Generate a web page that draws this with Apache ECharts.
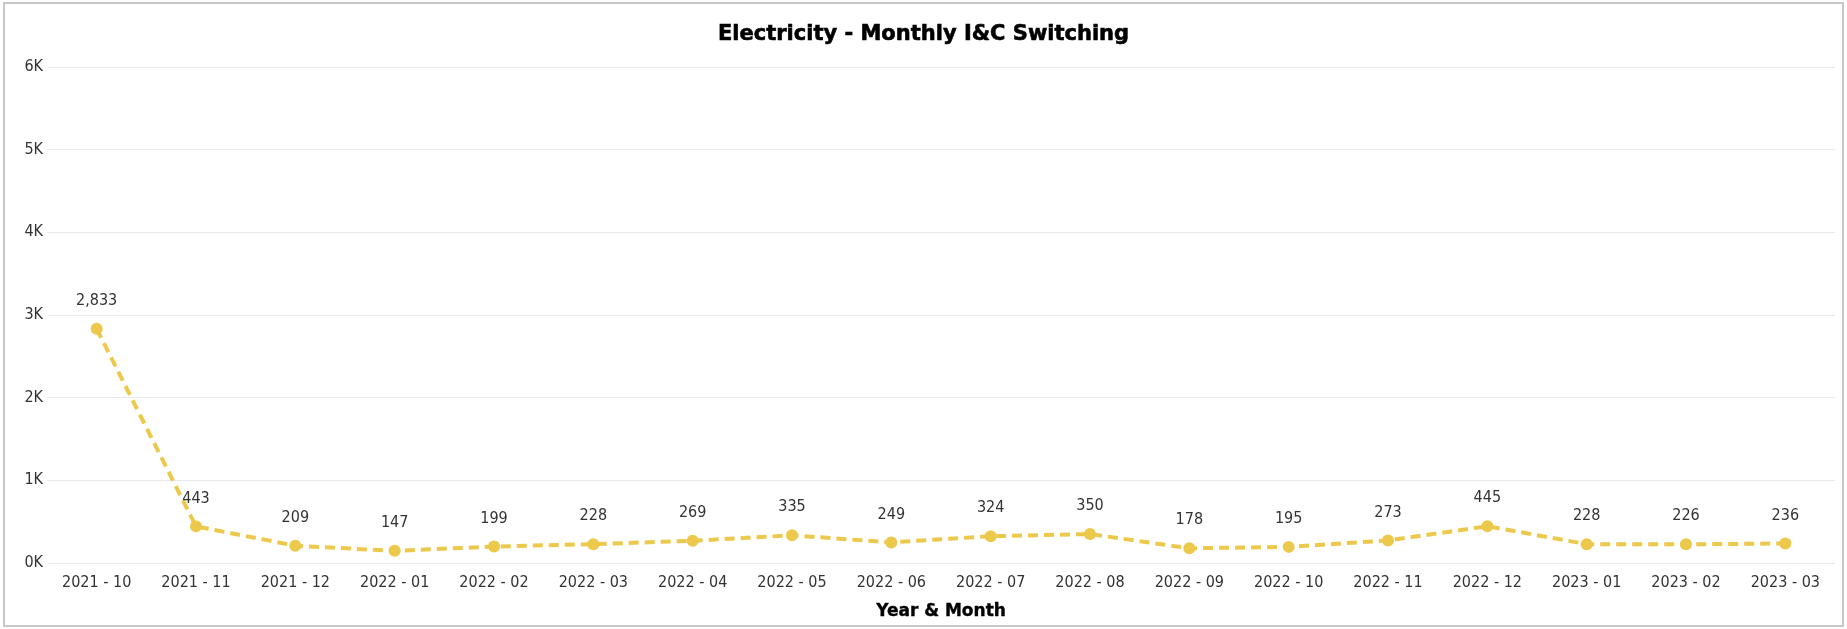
<!DOCTYPE html>
<html>
<head>
<meta charset="utf-8">
<title>Electricity - Monthly I&amp;C Switching</title>
<script src="https://cdn.jsdelivr.net/npm/echarts@6/dist/echarts.min.js"></script>
<style>
  html, body { margin: 0; padding: 0; background: #fff; }
  #chart { width: 1847px; height: 629px; }
</style>
</head>
<body>
<div id="chart"></div>
<script>
// data
var months = ['2021 - 10', '2021 - 11', '2021 - 12', '2022 - 01', '2022 - 02', '2022 - 03',
  '2022 - 04', '2022 - 05', '2022 - 06', '2022 - 07', '2022 - 08', '2022 - 09',
  '2022 - 10', '2022 - 11', '2022 - 12', '2023 - 01', '2023 - 02', '2023 - 03'];
var switching = [2833, 443, 209, 147, 199, 228, 269, 335, 249, 324, 350, 178, 195, 273, 445, 228, 226, 236];
var yTicks = [0, 1000, 2000, 3000, 4000, 5000, 6000];

var labelFont = '"DejaVu Sans Condensed", "DejaVu Sans", sans-serif';
var titleFont = '"DejaVu Sans", sans-serif';
var lineColor = '#ECC84B';

var chart = echarts.init(document.getElementById('chart'));

chart.setOption({
  animation: false,
  title: {
    text: 'Electricity - Monthly I&C Switching',
    left: 'center',
    top: 19,
    textStyle: {
      fontFamily: titleFont,
      fontWeight: 'bold',
      fontSize: 21,
      color: '#000',
      textBorderColor: '#000',
      textBorderWidth: 0.6
    }
  },
  graphic: [{
    type: 'rect',
    silent: true,
    shape: { x: 4, y: 3, width: 1839, height: 623 },
    style: { fill: 'none', stroke: '#c8c8c8', lineWidth: 2 }
  }],
  grid: {
    left: 47,
    right: 12,
    top: 67,
    bottom: 66
  },
  xAxis: {
    type: 'category',
    data: months,
    boundaryGap: true,
    name: 'Year & Month',
    nameLocation: 'middle',
    nameGap: 40,
    nameTextStyle: {
      fontFamily: titleFont,
      fontWeight: 'bold',
      fontSize: 17,
      color: '#000',
      textBorderColor: '#000',
      textBorderWidth: 0.4
    },
    axisLine: { show: false },
    axisTick: { show: false },
    axisLabel: {
      interval: 0,
      margin: 12,
      fontFamily: labelFont,
      fontSize: 16,
      color: '#333'
    }
  },
  yAxis: {
    type: 'value',
    min: yTicks[0],
    max: yTicks[yTicks.length - 1],
    interval: 1000,
    axisLine: { show: false },
    axisTick: { show: false },
    splitLine: { lineStyle: { color: '#e9e9e9', width: 1 } },
    axisLabel: {
      margin: 4,
      fontFamily: labelFont,
      fontSize: 16,
      color: '#333',
      formatter: function (v) { return (v / 1000) + 'K'; }
    }
  },
  series: [{
    name: 'Switching',
    type: 'line',
    data: switching,
    symbol: 'circle',
    symbolSize: 12,
    itemStyle: { color: lineColor },
    lineStyle: { color: lineColor, width: 4, type: [10, 6] },
    label: {
      show: true,
      position: 'top',
      distance: 14,
      fontFamily: labelFont,
      fontSize: 16,
      color: '#333',
      formatter: function (p) { return p.value.toLocaleString('en-US'); }
    }
  }]
});
</script>
</body>
</html>
